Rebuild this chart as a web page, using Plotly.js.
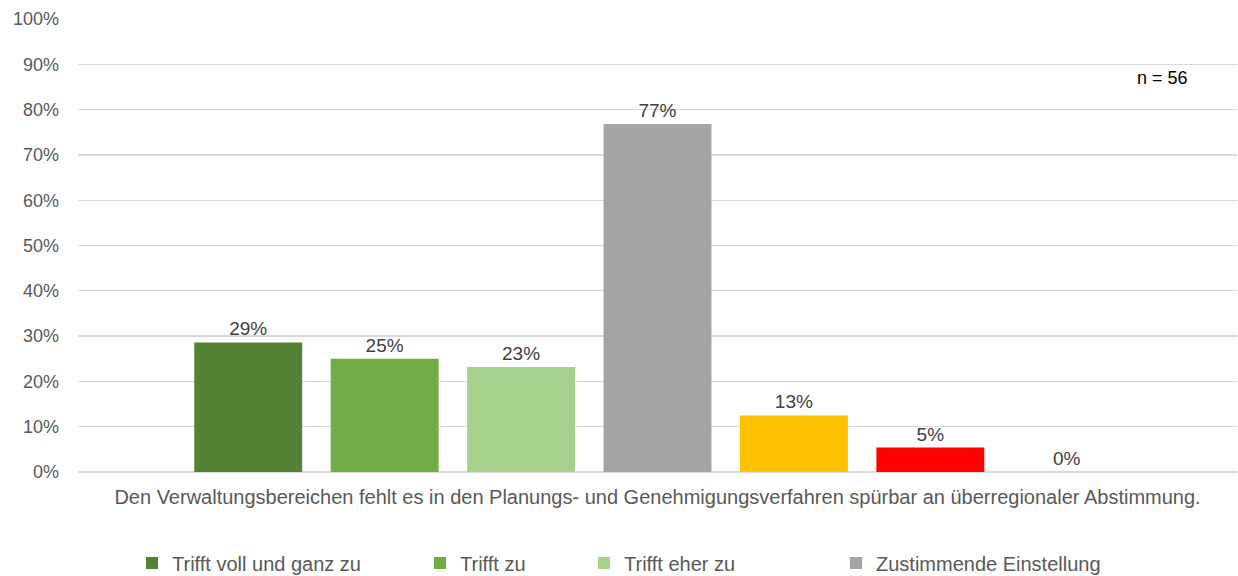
<!DOCTYPE html>
<html>
<head>
<meta charset="utf-8">
<script src="https://cdn.plot.ly/plotly-3.0.1.min.js"></script>
<style>html,body{margin:0;padding:0;background:#fff;}#chart{width:1238px;height:576px;}</style>
</head>
<body>
<div id="chart"></div>
<script>
const category = ["Den Verwaltungsbereichen fehlt es in den Planungs- und Genehmigungsverfahren spürbar an überregionaler Abstimmung."];
const seriesNames = ["Trifft voll und ganz zu", "Trifft zu", "Trifft eher zu", "Zustimmende Einstellung", "Trifft eher nicht zu", "Trifft nicht zu", "Trifft überhaupt nicht zu"];
const seriesValues = [0.286, 0.25, 0.232, 0.768, 0.125, 0.054, 0.0];
const seriesColors = ["#548235", "#70AD47", "#A9D18E", "#A5A5A5", "#FFC000", "#FF0000", "#C00000"];
const showInLegend = [true, true, true, true, false, false, false];
const legendX = [132, 420, 584, 836];
const nLabel = "n = 56";

const font = "Liberation Sans, Arial, sans-serif";
const legendIds = ["legend", "legend2", "legend3", "legend4"];
const traces = seriesNames.map((name, i) => ({
  type: "bar",
  name: name,
  x: category,
  y: [seriesValues[i]],
  marker: {color: seriesColors[i]},
  texttemplate: "%{y:.0%}",
  textposition: "outside",
  textfont: {family: font, size: 19, color: "#404040"},
  cliponaxis: false,
  showlegend: showInLegend[i],
  legend: i < 4 ? legendIds[i] : "legend",
  hoverinfo: "none"
}));

const layout = {
  width: 1238, height: 576,
  margin: {l: 78, r: 1, t: 19, b: 104},
  paper_bgcolor: "#fff", plot_bgcolor: "#fff",
  font: {family: font, size: 19, color: "#595959"},
  barmode: "group",
  bargap: 0.176,
  bargroupgap: 0.209,
  xaxis: {
    showgrid: false, showline: false, ticks: "",
    ticklabelstandoff: 11,
    tickfont: {family: font, size: 20, color: "#595959"},
    automargin: false
  },
  yaxis: {
    range: [0, 1], dtick: 0.1, tickformat: ".0%",
    showgrid: true, gridcolor: "#d9d9d9", gridwidth: 1.3,
    zeroline: true, zerolinecolor: "#d9d9d9", zerolinewidth: 1.3,
    showline: false, ticks: "",
    ticklabelstandoff: 18,
    tickfont: {family: font, size: 18, color: "#595959"},
    automargin: false
  },
  annotations: [{
    text: nLabel, xref: "paper", yref: "paper", x: 0.9594, y: 0.869,
    xanchor: "right", yanchor: "middle", showarrow: false,
    font: {family: font, size: 18, color: "#000"}
  }],
  showlegend: true
};
legendIds.forEach((id, k) => {
  layout[id] = {
    orientation: "h", xref: "container", yref: "container",
    x: legendX[k] / 1238, y: 1 - 563 / 576, xanchor: "left", yanchor: "middle",
    font: {family: font, size: 20, color: "#595959"},
    itemwidth: 30, bgcolor: "rgba(0,0,0,0)", borderwidth: 0
  };
});

Plotly.newPlot("chart", traces, layout, {displayModeBar: false, staticPlot: true});
</script>
</body>
</html>
